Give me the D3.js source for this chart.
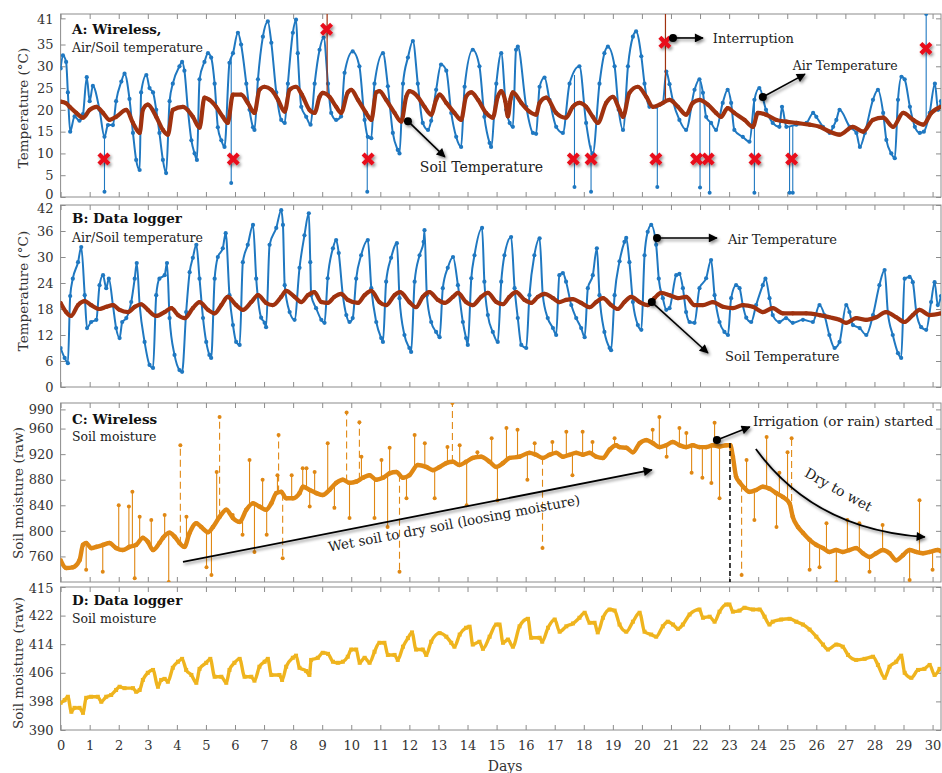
<!DOCTYPE html>
<html>
<head>
<meta charset="utf-8">
<script src="https://cdn.jsdelivr.net/npm/d3@7"></script>
<style>
  body { margin: 0; background: #fff; }
  text { font-family: "DejaVu Serif", serif; }
</style>
</head>
<body>
<div id="chart"></div>
<script>
// ---- data: [day, value] ----
const airA = [[0,29.5],[0.08,32.5],[0.19,31],[0.25,24],[0.33,15],[0.48,18.5],[0.65,17.5],[0.77,19],[0.9,27.5],[1.0,22],[1.11,25.5],[1.34,20],[1.51,13.8],[1.63,16.5],[1.8,16.5],[1.91,22],[2.09,26.5],[2.2,28.3],[2.37,22.5],[2.49,14.7],[2.6,8.5],[2.72,6.2],[2.77,24],[2.95,28],[3.06,25],[3.18,24],[3.29,20],[3.4,14.7],[3.52,8.5],[3.63,5.5],[3.75,22],[3.86,26],[4.09,30],[4.18,31],[4.26,29],[4.38,20],[4.5,13],[4.61,10],[4.69,8.5],[4.78,27],[4.95,31],[5.07,33],[5.18,32],[5.3,26],[5.41,16],[5.53,13],[5.64,11.5],[5.81,30.8],[5.93,33],[6.1,37.7],[6.21,35],[6.39,26],[6.5,20],[6.62,16],[6.67,15.4],[6.79,27],[6.96,36.8],[7.13,40.3],[7.25,35.4],[7.42,24],[7.59,17.7],[7.71,17],[7.82,26],[7.99,37.7],[8.1,40.7],[8.16,33],[8.28,20.7],[8.45,18.4],[8.6,16.6],[8.74,26],[8.91,33.8],[9.05,36.6],[9.2,26],[9.31,19.3],[9.48,17.7],[9.65,18.5],[9.77,28.5],[10.05,33.4],[10.28,30],[10.46,17.7],[10.57,13.8],[10.69,13.5],[10.8,26],[11.09,33],[11.26,25.4],[11.43,14.7],[11.6,10.8],[11.66,10],[11.78,26],[11.95,32],[12.12,35.8],[12.29,26],[12.46,17],[12.64,15.4],[12.75,17.5],[12.92,24.6],[13.09,30.4],[13.27,29],[13.44,19.3],[13.61,13.8],[13.78,11.5],[13.9,25.3],[14.18,33.8],[14.41,30],[14.58,18.4],[14.76,12.4],[14.81,11.5],[14.99,26],[15.16,33],[15.33,20],[15.45,17],[15.56,16.1],[15.67,33.8],[15.73,34.5],[16.02,20.7],[16.25,14.7],[16.36,14.5],[16.48,25.3],[16.65,27.4],[16.82,22.3],[17.05,16.1],[17.28,14.7],[17.51,26],[17.85,30],[18.08,17],[18.31,10],[18.54,26],[18.71,33],[18.83,34.5],[19.06,30],[19.2,20],[19.35,15.4],[19.52,30],[19.69,36.8],[19.8,38],[19.98,32.3],[20.09,26],[20.26,20.7],[20.49,20.7],[20.72,21.6],[20.84,28.8],[20.95,25.9],[21.07,22],[21.29,17.7],[21.52,15.4],[21.81,24.6],[21.98,27],[22.1,23.9],[22.21,18.4],[22.38,17],[22.55,15.4],[22.78,21.6],[22.95,24.6],[23.07,21.6],[23.18,15.4],[23.47,13.8],[23.7,12.7],[23.87,22.3],[24.04,25],[24.27,20],[24.5,17],[24.73,16.1],[24.82,20.7],[24.97,16.1],[25.31,16.6],[25.66,17],[25.89,19.3],[26.0,18.4],[26.23,16.1],[26.46,14.7],[26.58,16.1],[26.69,17.7],[26.8,20],[27.15,16.1],[27.38,14.7],[27.5,11.5],[27.67,14.7],[27.95,22.3],[28.12,24.6],[28.3,19.3],[28.41,13.1],[28.58,10],[28.7,8.9],[28.81,22.3],[28.93,27.6],[29.04,27],[29.22,20.7],[29.39,16.1],[29.56,14.7],[29.7,15],[29.9,19.3],[30.08,26],[30.19,20],[30.29,22]];

const soilA = [[0,21.9],[0.19,21.5],[0.31,20.7],[0.54,19.3],[0.77,18.2],[1.0,20],[1.23,20.7],[1.46,19.3],[1.68,17.7],[1.91,18.4],[2.26,20],[2.49,17],[2.72,14.7],[2.83,20],[3.0,21.2],[3.29,18.4],[3.52,15.4],[3.69,14.3],[3.86,20],[4.21,20.7],[4.55,18.4],[4.78,15.9],[4.95,22.8],[5.12,22.3],[5.35,20.7],[5.58,18.4],[5.75,17],[5.93,23.5],[6.21,23.5],[6.44,21.6],[6.67,19.3],[6.84,24.6],[7.02,25.3],[7.25,24.6],[7.48,22.3],[7.71,19.6],[7.88,24.6],[8.1,25.3],[8.3,23.5],[8.56,20],[8.74,19.3],[8.91,23],[9.02,23.9],[9.25,23],[9.48,20.7],[9.65,19.3],[9.88,24],[10.0,24.6],[10.23,22.3],[10.51,19.3],[10.69,17.7],[10.86,24],[10.97,24.3],[11.2,22.3],[11.49,19.3],[11.72,17.3],[11.89,23],[12.0,24.3],[12.29,23],[12.52,20.7],[12.75,18.9],[12.92,22.3],[13.04,23.5],[13.27,21.6],[13.55,19.3],[13.78,17.7],[13.95,23],[14.13,24],[14.36,22.3],[14.64,19.3],[14.87,18.2],[15.04,23],[15.16,24.3],[15.3,22],[15.39,18.5],[15.48,22.5],[15.56,24],[15.85,21.6],[16.13,19.6],[16.36,18.9],[16.48,21.6],[16.71,22.8],[17.05,19.3],[17.39,18.2],[17.62,20.7],[17.85,21.6],[18.08,20.7],[18.31,18.4],[18.48,17],[18.77,21.6],[19.0,23],[19.23,20],[19.35,18.4],[19.57,23.9],[19.86,25.3],[20.15,23],[20.38,20.7],[20.61,21.2],[20.95,22.3],[21.24,20.7],[21.52,18.9],[21.75,21.6],[21.98,22.3],[22.27,21.2],[22.55,19.3],[22.72,18.4],[22.95,20.4],[23.18,19.3],[23.53,17.7],[23.82,16.1],[23.99,19.3],[24.27,18.9],[24.62,17.7],[24.97,17.3],[25.31,17],[25.77,16.6],[26.12,16.1],[26.46,15],[26.8,14.3],[27.26,16.1],[27.61,15],[27.95,17.7],[28.3,18.2],[28.64,16.1],[28.99,19.3],[29.33,17.7],[29.68,16.6],[29.96,19.3],[30.29,20.7]];

// wireless outliers (blue drops) and soil-sensor interruptions
const airOutliersA = [[1.51,1.2],[5.87,3.2],[10.55,1.2],[17.68,2.3],[18.25,1.2],[20.53,2.3],[22.0,2.2],[22.33,1.0],[23.87,1.0],[25.08,1.0],[25.19,1.0],[29.78,42]];
const soilGapsA = [[9.17,42],[20.81,42]];
const crossesA = [[1.49,8.72],[5.94,8.72],[10.58,8.72],[17.64,8.72],[18.25,8.72],[20.48,8.72],[21.88,8.72],[22.28,8.72],[23.89,8.72],[25.15,8.72],[9.15,38.5],[20.79,35.5],[29.77,34.1]];

const airB = [[0,9],[0.14,6.7],[0.25,5.5],[0.33,21],[0.42,25],[0.6,28.8],[0.71,32.3],[0.83,21.2],[0.91,13.6],[1.05,15],[1.23,15.5],[1.34,23.5],[1.46,25.8],[1.57,22.8],[1.66,25],[1.8,18.9],[1.91,13.6],[2.03,11.3],[2.12,15],[2.26,15.9],[2.43,19.6],[2.55,25],[2.62,28.6],[2.72,18.9],[2.89,10.4],[3.06,5.1],[3.18,4.4],[3.29,21.2],[3.4,25],[3.58,25.8],[3.66,28.6],[3.75,15.9],[3.92,7.4],[4.09,3.9],[4.18,3.5],[4.32,17.3],[4.44,26.5],[4.55,29.8],[4.67,32.8],[4.78,25],[4.9,15.9],[5.01,10.4],[5.12,7.4],[5.18,6.7],[5.3,25],[5.41,30],[5.58,32],[5.68,35.5],[5.81,21.2],[5.93,14.3],[6.04,10.4],[6.16,9.7],[6.27,28.8],[6.44,32.8],[6.62,37.4],[6.73,25],[6.9,16],[7.02,14.8],[7.07,13.8],[7.19,32.8],[7.42,36.7],[7.59,40.8],[7.65,37.4],[7.71,23.5],[7.88,17.3],[8.05,15.5],[8.22,27.5],[8.39,35],[8.54,40.1],[8.59,28.8],[8.62,21.2],[8.79,18.2],[8.97,15.5],[9.08,14.8],[9.19,25.1],[9.37,32],[9.48,33.9],[9.57,30.9],[9.71,21.2],[9.83,16.6],[9.94,15],[10.05,15.9],[10.17,25],[10.34,30.4],[10.57,33.9],[10.69,22.8],[10.86,15],[11.03,11.3],[11.09,10.4],[11.2,24.3],[11.37,29.8],[11.57,33.2],[11.66,20.5],[11.83,12],[12.0,9],[12.06,8.1],[12.18,24.3],[12.35,30.4],[12.49,33.5],[12.52,36.2],[12.6,21.2],[12.75,15],[12.92,12.7],[13.04,11.5],[13.15,22.8],[13.32,27.5],[13.5,30],[13.67,23.5],[13.84,15],[13.95,11.3],[14.01,9.7],[14.13,25.1],[14.24,30.4],[14.5,36.7],[14.58,24.3],[14.7,16.6],[14.87,12.7],[15.04,10.4],[15.16,24.3],[15.27,30.4],[15.5,34.6],[15.62,22.8],[15.73,15.9],[15.85,9.7],[16.02,9],[16.13,21.2],[16.3,30.4],[16.48,34.3],[16.59,21.2],[16.76,15.9],[16.94,13.6],[17.05,12],[17.16,25.8],[17.28,26.3],[17.39,24.3],[17.57,18.9],[17.74,15.9],[17.91,13.6],[18.03,11.5],[18.14,22.8],[18.31,25.8],[18.45,32],[18.54,21.2],[18.71,12.7],[18.89,9],[18.94,8.5],[19.06,21.2],[19.23,29],[19.4,33.5],[19.46,34.4],[19.57,28.8],[19.69,19.6],[19.86,14.3],[19.98,13.2],[20.09,30.4],[20.2,35.8],[20.32,37.4],[20.49,32.8],[20.58,25],[20.72,20.5],[20.84,17.8],[20.95,18.2],[21.18,25.8],[21.29,26.1],[21.41,22.8],[21.52,17.3],[21.64,15],[21.81,14.8],[21.98,22.8],[22.21,25.1],[22.38,29.3],[22.5,21.2],[22.67,15],[22.84,12.7],[22.96,12],[23.07,20.5],[23.24,23.5],[23.36,22.8],[23.47,18.9],[23.59,16],[23.76,15],[23.93,18.9],[24.16,23.5],[24.25,25],[24.39,20.5],[24.5,16.6],[24.73,15],[24.96,15.9],[25.19,14.8],[25.54,15.5],[25.88,15],[26.11,18.9],[26.28,16.6],[26.45,12],[26.63,9],[26.8,10.4],[27.03,18.9],[27.14,17.3],[27.26,14.3],[27.49,13.6],[27.72,12],[27.95,16.6],[28.17,23.5],[28.35,27],[28.46,17.3],[28.63,12],[28.81,7.8],[28.92,6.7],[29.04,25],[29.21,25.4],[29.32,24.2],[29.44,17.3],[29.61,13.8],[29.78,13.2],[29.95,19.6],[30.07,24.2],[30.18,18.9],[30.29,21]];

const soilB = [[0,19.4],[0.19,17.3],[0.36,16.4],[0.6,18.9],[0.83,19.8],[1.05,18.9],[1.34,18],[1.57,18.5],[1.8,18.9],[2.03,17.8],[2.32,17.3],[2.55,18.5],[2.77,19.1],[3.0,17.8],[3.29,16.4],[3.58,17.3],[3.81,18.2],[4.04,16.6],[4.27,15.9],[4.55,18.2],[4.78,19.6],[5.07,17.8],[5.3,17],[5.53,18.9],[5.75,20.8],[6.04,18.9],[6.27,17.8],[6.56,19.6],[6.79,21.2],[7.07,19.4],[7.3,18.9],[7.59,20.8],[7.76,22.2],[8.05,20.8],[8.28,19.6],[8.51,21.2],[8.73,21.9],[8.97,19.6],[9.19,19.4],[9.42,20.8],[9.65,21.5],[9.88,20.1],[10.23,19.4],[10.46,21.2],[10.69,22.2],[10.97,19.6],[11.2,18.9],[11.49,21.2],[11.68,21.9],[12.0,19.6],[12.23,18.4],[12.46,20.8],[12.69,21.9],[12.98,20.1],[13.21,19.4],[13.5,20.8],[13.67,21.7],[13.95,19.6],[14.18,18.9],[14.47,20.8],[14.7,21.7],[14.99,19.6],[15.22,19.1],[15.44,20.8],[15.67,21.9],[15.96,20.1],[16.19,19.4],[16.42,20.8],[16.65,21.5],[16.94,20.5],[17.16,19.6],[17.39,20.1],[17.62,20.3],[17.91,19.4],[18.2,18.4],[18.43,19.6],[18.66,20.5],[18.94,18.9],[19.17,18],[19.4,19.6],[19.63,20.8],[19.92,19.6],[20.2,18.9],[20.43,20.5],[20.66,21.7],[20.95,21.2],[21.24,20.5],[21.52,20.8],[21.81,18.9],[22.1,18.9],[22.44,19.6],[22.79,18.5],[23.13,18.2],[23.47,18.9],[23.82,18.5],[24.16,17.3],[24.5,18.2],[24.85,17],[25.19,17],[25.65,17],[26.11,16.6],[26.45,16.1],[26.8,15.5],[27.03,14.8],[27.37,15.9],[27.72,15.5],[28.06,16.1],[28.4,17.3],[28.75,16.1],[29.04,15],[29.32,16.6],[29.55,17.8],[29.9,16.6],[30.29,17]];

const moistC = [[0,754],[0.19,742],[0.42,743],[0.65,754],[0.77,778],[0.88,781],[1.05,773],[1.23,775],[1.46,778],[1.68,781],[1.91,773],[2.14,770],[2.37,775],[2.6,778],[2.83,789],[3.0,783],[3.18,770],[3.4,781],[3.52,789],[3.75,797],[3.92,791],[4.09,781],[4.26,775],[4.44,797],[4.67,812],[4.84,806],[5.07,798],[5.24,806],[5.47,822],[5.7,833],[5.93,820],[6.16,814],[6.39,833],[6.62,843],[6.84,838],[7.07,833],[7.25,843],[7.42,859],[7.59,861],[7.76,851],[7.99,851],[8.22,859],[8.34,869],[8.57,864],[8.8,859],[9.02,856],[9.25,864],[9.48,875],[9.71,880],[9.94,875],[10.17,877],[10.4,883],[10.63,887],[10.86,880],[11.09,883],[11.32,890],[11.55,892],[11.78,883],[12.0,887],[12.29,903],[12.58,900],[12.81,895],[13.04,900],[13.27,906],[13.5,908],[13.72,903],[13.95,908],[14.18,914],[14.47,916],[14.76,908],[14.99,900],[15.22,906],[15.45,914],[15.79,916],[16.13,922],[16.36,919],[16.59,914],[16.82,919],[17.05,922],[17.28,916],[17.51,919],[17.74,922],[17.97,919],[18.2,922],[18.43,916],[18.66,914],[18.89,927],[19.11,934],[19.23,931],[19.46,930],[19.69,923],[19.92,937],[20.15,942],[20.38,937],[20.61,931],[20.84,934],[21.06,939],[21.29,934],[21.52,931],[21.75,934],[21.98,931],[22.21,931],[22.44,934],[22.67,932],[22.9,934],[23.04,934],[23.13,916],[23.24,885],[23.36,876],[23.53,867],[23.7,861],[23.93,864],[24.16,869],[24.39,866],[24.62,859],[24.85,853],[25.08,843],[25.19,822],[25.37,806],[25.54,797],[25.77,786],[26.0,778],[26.23,773],[26.45,767],[26.68,770],[26.91,767],[27.14,770],[27.37,773],[27.6,765],[27.83,759],[28.06,765],[28.29,770],[28.52,765],[28.75,754],[28.98,762],[29.21,770],[29.44,767],[29.67,765],[29.9,767],[30.18,770],[30.29,768]];

const moistSpikesC = [[0.88,739],[1.45,736],[2.0,840],[2.35,838],[2.47,861],[2.55,726],[2.72,822],[3.12,817],[3.58,825],[3.72,720],[4.12,934],[4.33,822],[5.02,743],[5.19,731],[5.37,892],[5.47,978],[5.92,825],[6.26,794],[6.5,911],[6.67,767],[6.95,880],[7.09,794],[7.46,887],[7.5,950],[7.64,757],[7.95,887],[8.33,898],[8.46,898],[8.57,838],[8.74,892],[9.19,937],[9.42,836],[9.84,985],[9.94,820],[10.28,970],[10.35,916],[10.8,820],[11.04,911],[11.25,806],[11.32,930],[11.66,736],[11.9,851],[12.18,950],[12.53,937],[12.87,851],[13.31,931],[13.48,1000],[13.73,934],[13.97,840],[14.34,923],[14.83,945],[15.03,848],[15.34,961],[15.72,958],[16.06,880],[16.31,937],[16.58,773],[16.92,939],[17.4,955],[17.61,887],[17.96,955],[18.3,939],[19.06,945],[20.37,958],[20.6,978],[20.85,916],[21.29,961],[21.53,953],[21.71,891],[22.08,883],[22.39,875],[22.5,969],[22.67,851],[23.43,731],[23.6,911],[23.87,817],[24.29,947],[24.63,806],[24.73,891],[25.01,923],[25.15,945],[25.77,739],[26.11,743],[26.35,812],[26.69,720],[27.07,817],[27.48,812],[27.83,736],[28.28,809],[29.21,723],[29.55,848],[30.0,739]];

const moistD = [[0,397.6],[0.14,398.4],[0.25,399.3],[0.37,395.1],[0.48,396.2],[0.65,396.2],[0.77,394.8],[0.88,399],[1.05,399.3],[1.28,399.3],[1.4,397.9],[1.57,399.3],[1.74,399.8],[1.91,401.2],[2.03,402.1],[2.2,401.7],[2.49,401.7],[2.6,400.7],[2.72,401.2],[2.83,404],[3.0,406],[3.18,406.8],[3.35,402.1],[3.46,404],[3.58,404.3],[3.69,403.5],[3.86,407.4],[4.04,409.1],[4.18,409.9],[4.32,406.8],[4.5,405.4],[4.67,403.2],[4.78,407.1],[5.01,408.8],[5.15,409.9],[5.3,404.9],[5.53,404.9],[5.7,403.2],[5.81,406.8],[5.98,408.8],[6.16,409.9],[6.33,404.9],[6.56,404.9],[6.67,403.8],[6.84,407.7],[7.02,409.1],[7.13,409.9],[7.25,405.4],[7.53,405.4],[7.62,404],[7.76,407.7],[7.99,410.2],[8.1,410.8],[8.22,407.4],[8.45,406.5],[8.56,405.4],[8.62,409.6],[8.85,410.2],[9.02,411.6],[9.2,411.3],[9.37,409.1],[9.54,408.8],[9.71,409.1],[9.88,410.5],[10.0,412.5],[10.17,412.5],[10.29,408.8],[10.46,410.2],[10.63,408.8],[10.8,411.9],[10.97,414.4],[11.14,414.4],[11.26,411],[11.49,411],[11.6,409.6],[11.78,413.3],[11.95,415.7],[12.09,417.3],[12.23,412.5],[12.46,412.5],[12.58,411],[12.75,414.7],[13.04,417.1],[13.27,416.1],[13.44,414.4],[13.55,413.3],[13.73,416.7],[13.95,418.6],[14.07,418.9],[14.18,413.9],[14.41,414.7],[14.53,412.7],[14.76,416.1],[14.99,419.5],[15.1,419.5],[15.22,414.4],[15.39,415.3],[15.56,413.3],[15.79,419],[16.08,421.1],[16.19,415.8],[16.48,415.8],[16.57,414.7],[16.77,418.6],[17.0,420.9],[17.17,417.5],[17.4,419],[17.63,419.8],[17.85,421.4],[18.03,422.8],[18.2,420],[18.37,420],[18.48,417.3],[18.66,421.4],[18.89,423.7],[19.06,423.4],[19.23,419.5],[19.46,417.5],[19.69,420.3],[19.92,422.8],[20.09,417.5],[20.32,416.7],[20.49,416.1],[20.72,419],[20.89,420.3],[21.07,419.5],[21.24,418.3],[21.41,419.5],[21.64,422.3],[21.98,423.7],[22.1,421.4],[22.33,421.7],[22.5,420.3],[22.67,423.1],[22.9,425.1],[23.01,425.1],[23.13,423.1],[23.36,423.4],[23.53,424.2],[23.82,423.7],[24.05,423.7],[24.22,421.7],[24.39,419.5],[24.5,420.3],[24.79,420.9],[25.08,421.1],[25.31,420.3],[25.54,419.5],[25.77,418.1],[26.0,416.1],[26.23,413.9],[26.4,412.5],[26.69,413.9],[26.91,413.3],[27.09,411],[27.37,409.6],[27.66,409.9],[27.95,410.5],[28.12,408.2],[28.35,404.6],[28.52,407.7],[28.75,409.1],[28.92,410.8],[29.04,406],[29.27,404.6],[29.5,406.8],[29.72,407.1],[29.9,408.2],[30.07,405.4],[30.24,407.1]];

// tick labels
const dayTicks = d3.range(0, 31);
const tempTicksA = [0, 5, 10, 15, 20, 25, 30, 35, 41];
const tempTicksB = [0, 6, 12, 18, 24, 30, 36, 42];
const moistTicksC = [760, 800, 840, 880, 920, 960, 990];
const moistTicksD = [390, 398, 406, 414, 422, 430];
const moistLabelsD = ["390", "398", "406", "414", "422", "415"];

// ---- drawing ----
const W = 942, H = 773, X0 = 60.6, X1 = 941;
const BLUE = "#1f78c1", BROWN = "#a0320f", ORANGE = "#e08814", GOLD = "#efb41e";
const AX = "#8c8c8c", TXT = "#333";

const svg = d3.select("#chart").append("svg").attr("width", W).attr("height", H);
const defs = svg.append("defs");
defs.append("filter").attr("id", "shadow").attr("x", "-50%").attr("y", "-50%").attr("width", "200%").attr("height", "200%")
  .append("feDropShadow").attr("dx", 1.5).attr("dy", 2).attr("stdDeviation", 1.6)
  .attr("flood-color", "#000").attr("flood-opacity", 0.45);
defs.append("marker").attr("id", "arrow").attr("viewBox", "0 0 10 10")
  .attr("refX", 9).attr("refY", 5).attr("markerWidth", 11).attr("markerHeight", 9)
  .attr("markerUnits", "userSpaceOnUse").attr("orient", "auto")
  .append("path").attr("d", "M0,0L10,5L0,10z").attr("fill", "#000");

const x = d3.scaleLinear().domain([0, 30.29]).range([X0, X1]);

const bis = d3.bisector(d => d[0]).left;
function valueAt(s, t) {
  const i = Math.max(1, Math.min(s.length - 1, bis(s, t)));
  const a = s[i - 1], b = s[i];
  return a[1] + (b[1] - a[1]) * (t - a[0]) / (b[0] - a[0]);
}

// nudge = {tickValue: pixel shift} so labels of stacked panels don't collide
function makePanel(key, top, bottom, domain, ticks, labels, xLabels, nudge = {}) {
  const y = d3.scaleLinear().domain(domain).range([bottom, top]);
  defs.append("clipPath").attr("id", "clip" + key)
    .append("rect").attr("x", X0).attr("y", top).attr("width", X1 - X0).attr("height", bottom - top);
  const g = svg.append("g");
  const style = sel => {
    sel.select(".domain").remove();
    sel.selectAll(".tick line").attr("stroke", AX);
    sel.selectAll("text").attr("fill", TXT).attr("font-size", 13).attr("font-family", "DejaVu Serif");
  };
  g.append("g").attr("transform", `translate(${X0},0)`)
    .call(d3.axisLeft(y).tickValues(ticks).tickSize(-5).tickPadding(7)
      .tickFormat((d, i) => labels ? labels[i] : d)).call(style)
    .selectAll(".tick text").attr("y", d => nudge[d] || 0);
  g.append("g").attr("transform", `translate(${X1},0)`)
    .call(d3.axisRight(y).tickValues(ticks).tickSize(-5).tickFormat("")).call(style);
  g.append("g").attr("transform", `translate(0,${top})`)
    .call(d3.axisTop(x).tickValues(dayTicks).tickSize(-5).tickFormat("")).call(style);
  g.append("g").attr("transform", `translate(0,${bottom})`)
    .call(d3.axisBottom(x).tickValues(dayTicks).tickSize(-5).tickPadding(11)
      .tickFormat(xLabels ? d3.format("d") : "")).call(style);
  g.append("rect").attr("x", X0).attr("y", top).attr("width", X1 - X0).attr("height", bottom - top)
    .attr("fill", "none").attr("stroke", AX).attr("stroke-width", 1);
  const plot = svg.append("g").attr("clip-path", `url(#clip${key})`);
  return { y, plot };
}

function series(plot, y, data, color, width, r, square) {
  const line = d3.line().x(d => x(d[0])).y(d => y(d[1])).curve(d3.curveMonotoneX);
  plot.append("path").datum(data).attr("d", line).attr("fill", "none")
    .attr("stroke", color).attr("stroke-width", width).attr("stroke-linejoin", "round");
  if (square) {
    plot.append("g").selectAll("rect").data(data).join("rect")
      .attr("x", d => x(d[0]) - r).attr("y", d => y(d[1]) - r)
      .attr("width", 2 * r).attr("height", 2 * r).attr("fill", color);
  } else {
    plot.append("g").selectAll("circle").data(data).join("circle")
      .attr("cx", d => x(d[0])).attr("cy", d => y(d[1])).attr("r", r).attr("fill", color);
  }
}

function stems(plot, y, base, pts, color, dashedOver) {
  const g = plot.append("g");
  g.selectAll("line").data(pts).join("line")
    .attr("x1", d => x(d[0])).attr("x2", d => x(d[0]))
    .attr("y1", d => y(valueAt(base, d[0]))).attr("y2", d => y(d[1]))
    .attr("stroke", color).attr("stroke-width", 1.1)
    .attr("stroke-dasharray", d => dashedOver && Math.abs(d[1] - valueAt(base, d[0])) > dashedOver ? "7,4" : null);
  g.selectAll("circle").data(pts).join("circle")
    .attr("cx", d => x(d[0])).attr("cy", d => y(d[1])).attr("r", 2).attr("fill", color);
}

function label(txt, px, py, opts = {}) {
  const t = svg.append("text").attr("x", px).attr("y", py).text(txt)
    .attr("fill", opts.fill || "#222").attr("font-size", opts.size || 13.5)
    .attr("font-weight", opts.bold ? "bold" : null)
    .attr("text-anchor", opts.anchor || "start");
  if (opts.rotate != null) t.attr("transform", `rotate(${opts.rotate},${px},${py})`);
  return t;
}

function pointer(x1, y1, x2, y2) {
  const g = svg.append("g").attr("filter", "url(#shadow)");
  g.append("line").attr("x1", x1).attr("y1", y1).attr("x2", x2).attr("y2", y2)
    .attr("stroke", "#000").attr("stroke-width", 1.6).attr("marker-end", "url(#arrow)");
  g.append("circle").attr("cx", x1).attr("cy", y1).attr("r", 4).attr("fill", "#000");
}

// Panel A
const A = makePanel("A", 14, 197, [0, 42], tempTicksA, null, false, { 0: -3, 41: 1 });
series(A.plot, A.y, airA, BLUE, 2, 2.1);
stems(A.plot, A.y, airA, airOutliersA, BLUE, 0);
A.plot.append("g").selectAll("line").data(soilGapsA).join("line")
  .attr("x1", d => x(d[0])).attr("x2", d => x(d[0]))
  .attr("y1", d => A.y(valueAt(soilA, d[0]))).attr("y2", d => A.y(d[1]))
  .attr("stroke", BROWN).attr("stroke-width", 1.2);
series(A.plot, A.y, soilA, BROWN, 4.2, 2.1);
svg.append("g").selectAll("path").data(crossesA).join("path")
  .attr("transform", d => `translate(${x(d[0])},${A.y(d[1])})`)
  .attr("d", "M-5,-5L5,5M5,-5L-5,5").attr("stroke", "#e8101a").attr("stroke-width", 4.2)
  .attr("filter", "url(#shadow)");

// Panel B
const B = makePanel("B", 205, 387, [0, 42], tempTicksB, null, false, { 42: 3 });
series(B.plot, B.y, airB, BLUE, 2, 2.1);
series(B.plot, B.y, soilB, BROWN, 4.2, 2.1);

// Panel C
const C = makePanel("C", 403, 582, [720, 1000], moistTicksC, null, false);
stems(C.plot, C.y, moistC, moistSpikesC, ORANGE, 90);
series(C.plot, C.y, moistC, ORANGE, 4.4, 2.3);

// Panel D
const D = makePanel("D", 587, 730, [390, 430], moistTicksD, moistLabelsD, true, { 430: 1 });
series(D.plot, D.y, moistD, GOLD, 3.4, 2, true);

// titles
label("A: Wireless,", 72, 34, { bold: true, size: 13.5, fill: "#111" });
label("Air/Soil temperature", 72, 52, { size: 12.5 });
label("B: Data logger", 72, 223, { bold: true, size: 13.5, fill: "#111" });
label("Air/Soil temperature", 72, 242, { size: 12.5 });
label("C: Wireless", 72, 424, { bold: true, size: 13.5, fill: "#111" });
label("Soil moisture", 72, 441, { size: 12.5 });
label("D: Data logger", 72, 605, { bold: true, size: 13.5, fill: "#111" });
label("Soil moisture", 72, 623, { size: 12.5 });

// axis titles
label("Temperature (°C)", 28, 108, { anchor: "middle", rotate: -90, size: 13.5, fill: TXT });
label("Temperature (°C)", 28, 291, { anchor: "middle", rotate: -90, size: 13.5, fill: TXT });
label("Soil moisture (raw)", 23, 493, { anchor: "middle", rotate: -90, size: 13.5, fill: TXT });
label("Soil moisture (raw)", 23, 663, { anchor: "middle", rotate: -90, size: 13.5, fill: TXT });
label("Days", 505, 771, { anchor: "middle", size: 14, fill: TXT });

// annotations, panel A
pointer(x(21.07), A.y(36.5), x(22.1), A.y(36.5));
label("Interruption", x(22.44), A.y(35.3), { size: 13 });
pointer(x(24.16), A.y(22.95), x(25.61), A.y(28.2));
label("Air Temperature", x(25.19), A.y(29.1), { size: 12.5 });
pointer(x(11.95), A.y(17.4), x(13.22), A.y(9.2));
label("Soil Temperature", x(12.36), A.y(5.7), { size: 14 });

// annotations, panel B
pointer(x(20.52), B.y(34.4), x(22.58), B.y(34.4));
label("Air Temperature", x(22.96), B.y(33.0), { size: 13 });
pointer(x(20.34), B.y(19.6), x(22.27), B.y(7.85));
label("Soil Temperature", x(22.86), B.y(6.0), { size: 13 });

// annotations, panel C
svg.append("line").attr("x1", x(4.21)).attr("y1", C.y(751.3)).attr("x2", x(20.34)).attr("y2", C.y(895.3))
  .attr("stroke", "#000").attr("stroke-width", 1.8).attr("marker-end", "url(#arrow)").attr("filter", "url(#shadow)");
label("Wet soil to dry soil (loosing moisture)", x(13.57), C.y(804.5), { anchor: "middle", rotate: -10.7, size: 13.5 });
pointer(x(22.58), C.y(942.2), x(23.71), C.y(962.6));
label("Irrigation (or rain) started", x(23.82), C.y(964), { size: 13.5 });
svg.append("line").attr("x1", x(23.03)).attr("x2", x(23.03)).attr("y1", C.y(937.5)).attr("y2", C.y(720))
  .attr("stroke", "#000").attr("stroke-width", 1.5).attr("stroke-dasharray", "5,3");
const p0 = [x(23.92), C.y(928.1)], p1 = [x(25.95), C.y(801.4)], p2 = [x(29.73), C.y(790.4)];
svg.append("path").attr("d", `M${p0}Q${p1} ${p2}`).attr("fill", "none")
  .attr("stroke", "#000").attr("stroke-width", 1.8).attr("marker-end", "url(#arrow)").attr("filter", "url(#shadow)");
label("Dry to wet", x(26.68), C.y(857.7), { anchor: "middle", rotate: 29, size: 14 });
</script>
</body>
</html>
